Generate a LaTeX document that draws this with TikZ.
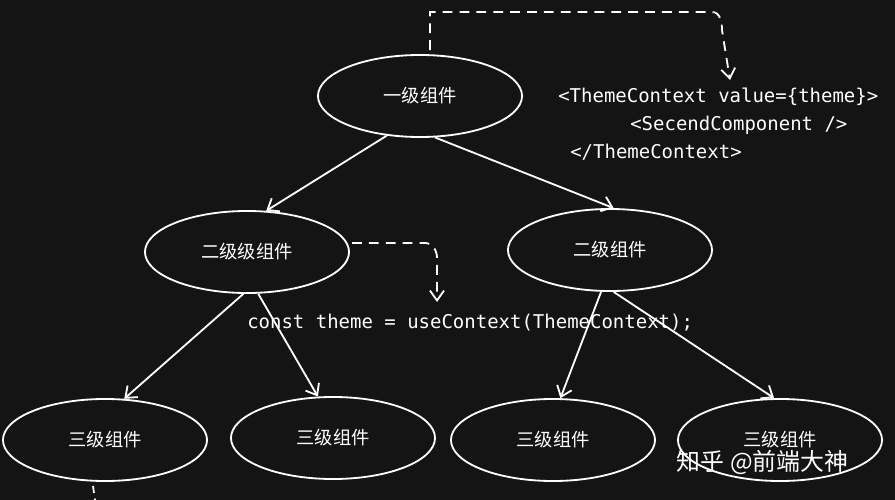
\documentclass[tikz,border=0pt]{standalone}
\usepackage{fontspec}
\setmonofont{DejaVu Sans Mono}
\newfontfamily\cjk{Noto Sans CJK SC}
\usetikzlibrary{shapes.geometric,arrows.meta,positioning}
\tikzset{
	comp/.style={ellipse,draw=white,line width=1.3pt,text=white,font=\cjk\fontsize{13}{15}\selectfont,minimum width=5.1cm,minimum height=2.05cm},
	treeedge/.style={-{Straight Barb[width=11pt,length=7pt]},white,line width=1.3pt},
	dashedge/.style={-{Straight Barb[width=10pt,length=7pt]},white,line width=1.3pt,dash pattern=on 7pt off 5pt},
	code/.style={text=white,font=\ttfamily\fontsize{13.5}{16}\selectfont,anchor=west,inner sep=0}
}
\begin{document}
\begin{tikzpicture}[x=0.025cm,y=-0.025cm]
	\fill[black!92] (0,0) rectangle (895,500);
	\useasboundingbox (0,0) rectangle (895,500);
	%%%components
	\node[comp] (top) at (420,96) {一级组件};
	\node[comp] (l2a) at (247,252) {二级级组件};
	\node[comp] (l2b) at (610,250) {二级组件};
	\node[comp] (l3a) at (105,440) {三级组件};
	\node[comp] (l3b) at (333,438) {三级组件};
	\node[comp] (l3c) at (553,440) {三级组件};
	\node[comp] (l3d) at (780,440) {三级组件};
	%%%code
	\node[code] (prov) at (558,97) {<ThemeContext value=\{theme\}>};
	\node[code] (child) at (630,125) {<SecendComponent />};
	\node[code] (provend) at (570,152) {</ThemeContext>};
	\node[code] (use) at (247,323) {const theme = useContext(ThemeContext);};
	\node[text=white,font=\cjk\fontsize{17}{20}\selectfont,anchor=west] (mark) at (672,462) {知乎 @前端大神};
	%%%edges
	\draw[treeedge] (top.230) -- (l2a.65);
	\draw[treeedge] (top.290) -- (l2b.85);
	\draw[treeedge] (l2a.265) -- (l3a.65);
	\draw[treeedge] (l2a.285) -- (l3b.110);
	\draw[treeedge] (l2b.258) -- (l3c.80);
	\draw[treeedge] (l2b.275) -- (l3d.98);
	%%%context flow
	\coordinate (c1) at (430,50);
	\coordinate (c2) at (730,80);
	\draw[dashedge] (c1) -- (430,12) -- (712,12) to[out=0,in=90] (722,30) -- (c2);
	\coordinate (d1) at (352,243);
	\coordinate (d2) at (437,302);
	\draw[dashedge] (d1) -- (425,243) to[out=0,in=90] (437,258) -- (d2);
	\coordinate (e1) at (93,486);
	\draw[white,line width=1.3pt,dash pattern=on 5pt off 4pt] (e1) -- (95,500);
\end{tikzpicture}
\end{document}
